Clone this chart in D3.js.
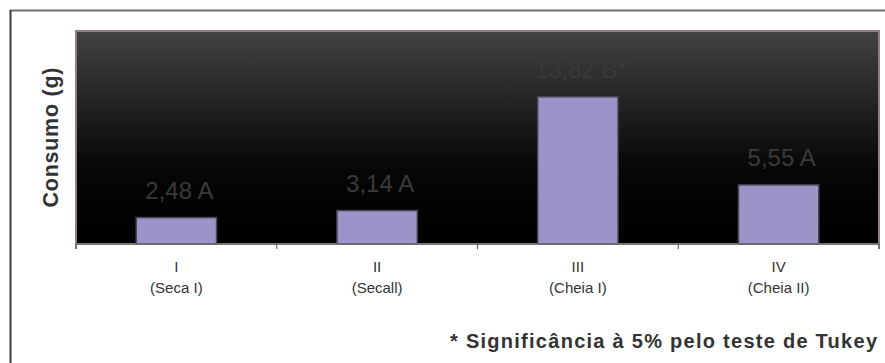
<!DOCTYPE html>
<html>
<head>
<meta charset="utf-8">
<script src="https://cdn.jsdelivr.net/npm/d3@7"></script>
<style>
  html, body { margin: 0; padding: 0; background: #fff; }
  svg { display: block; font-family: "Liberation Sans", Arial, sans-serif; }
</style>
</head>
<body>
<svg id="chart" width="885" height="363"></svg>
<script>
// Consumo médio por período
const periods = ["I", "II", "III", "IV"];
const periodNames = ["(Seca I)", "(Secall)", "(Cheia I)", "(Cheia II)"];
const consumo = [2.48, 3.14, 13.82, 5.55];
const groups = ["A", "A", "B*", "A"];
const yDomain = [0, 20];

const svg = d3.select("#chart");
const W = 885, H = 363;
const plot = { left: 76, top: 31, right: 879, bottom: 244 };

// outer frame
svg.append("line").attr("x1", 10).attr("x2", W).attr("y1", 10.5).attr("y2", 10.5)
  .attr("stroke", "#6e6e6e").attr("stroke-width", 2);
svg.append("line").attr("x1", 10.5).attr("x2", 10.5).attr("y1", 10).attr("y2", H)
  .attr("stroke", "#3a3a3a").attr("stroke-width", 2);

const x = d3.scaleBand().domain(periods).range([plot.left, plot.right]).padding(0);
const y = d3.scaleLinear().domain(yDomain).range([plot.bottom, plot.top]);

// dark gradient background of the plotting area
const defs = svg.append("defs");
const grad = defs.append("linearGradient").attr("id", "bg")
  .attr("x1", 0).attr("y1", 0).attr("x2", 0).attr("y2", 1);
grad.append("stop").attr("offset", "0%").attr("stop-color", "#424242");
grad.append("stop").attr("offset", "65%").attr("stop-color", "#060606");
grad.append("stop").attr("offset", "100%").attr("stop-color", "#000000");

svg.append("rect")
  .attr("x", plot.left).attr("y", plot.top)
  .attr("width", plot.right - plot.left).attr("height", plot.bottom - plot.top)
  .attr("fill", "url(#bg)")
  .attr("stroke", "#8c8080").attr("stroke-width", 2);

// bars
const barW = x.bandwidth() * 0.4;
svg.append("g").selectAll("rect").data(consumo).join("rect")
  .attr("x", (d, i) => x(periods[i]) + (x.bandwidth() - barW) / 2)
  .attr("y", d => y(d))
  .attr("width", barW)
  .attr("height", d => y(0) - y(d))
  .attr("fill", "#9c94c8")
  .attr("stroke", "#4a4652").attr("stroke-width", 1.5);

// value labels
svg.append("g").selectAll("text").data(consumo).join("text")
  .attr("x", (d, i) => x(periods[i]) + x.bandwidth() / 2 + 3)
  .attr("y", d => y(d) - 19)
  .attr("text-anchor", "middle")
  .attr("font-size", 24)
  .attr("fill", "#3a3a3a")
  .text((d, i) => d3.format(".2f")(d).replace(".", ",") + " " + groups[i]);

// x axis line and tick marks
const xAxis = d3.axisBottom(x).tickSize(0).tickFormat("");
const gx = svg.append("g").attr("transform", `translate(0,${plot.bottom})`).call(xAxis);
gx.select(".domain").attr("stroke", "#7a7070").attr("stroke-width", 1.5)
  .attr("d", `M${plot.left},5V0H${plot.right}V5`);
gx.selectAll(".tick").remove();
svg.append("g").selectAll("line").data(d3.range(periods.length + 1)).join("line")
  .attr("x1", i => plot.left + i * x.step()).attr("x2", i => plot.left + i * x.step())
  .attr("y1", plot.bottom).attr("y2", plot.bottom + 5)
  .attr("stroke", "#555").attr("stroke-width", 1);

const lbl = svg.append("g").selectAll("text").data(periods).join("text")
  .attr("x", d => x(d) + x.bandwidth() / 2)
  .attr("text-anchor", "middle")
  .attr("font-size", 15)
  .attr("fill", "#333");
lbl.append("tspan").attr("x", d => x(d) + x.bandwidth() / 2).attr("y", 272).text(d => d);
lbl.append("tspan").attr("x", d => x(d) + x.bandwidth() / 2).attr("y", 293)
  .text((d, i) => periodNames[i]);

// y axis title
svg.append("text")
  .attr("transform", `translate(58,${(plot.top + plot.bottom) / 2 + 70}) rotate(-90)`)
  .attr("font-size", 21.5).attr("font-weight", "bold")
  .attr("fill", "#333")
  .attr("textLength", 140).attr("lengthAdjust", "spacing")
  .text("Consumo (g)");

// footnote
svg.append("text")
  .attr("x", 450).attr("y", 348)
  .attr("font-size", 20).attr("font-weight", "bold")
  .attr("fill", "#333")
  .attr("textLength", 427).attr("lengthAdjust", "spacing")
  .text("* Significância à 5% pelo teste de Tukey");
</script>
</body>
</html>
